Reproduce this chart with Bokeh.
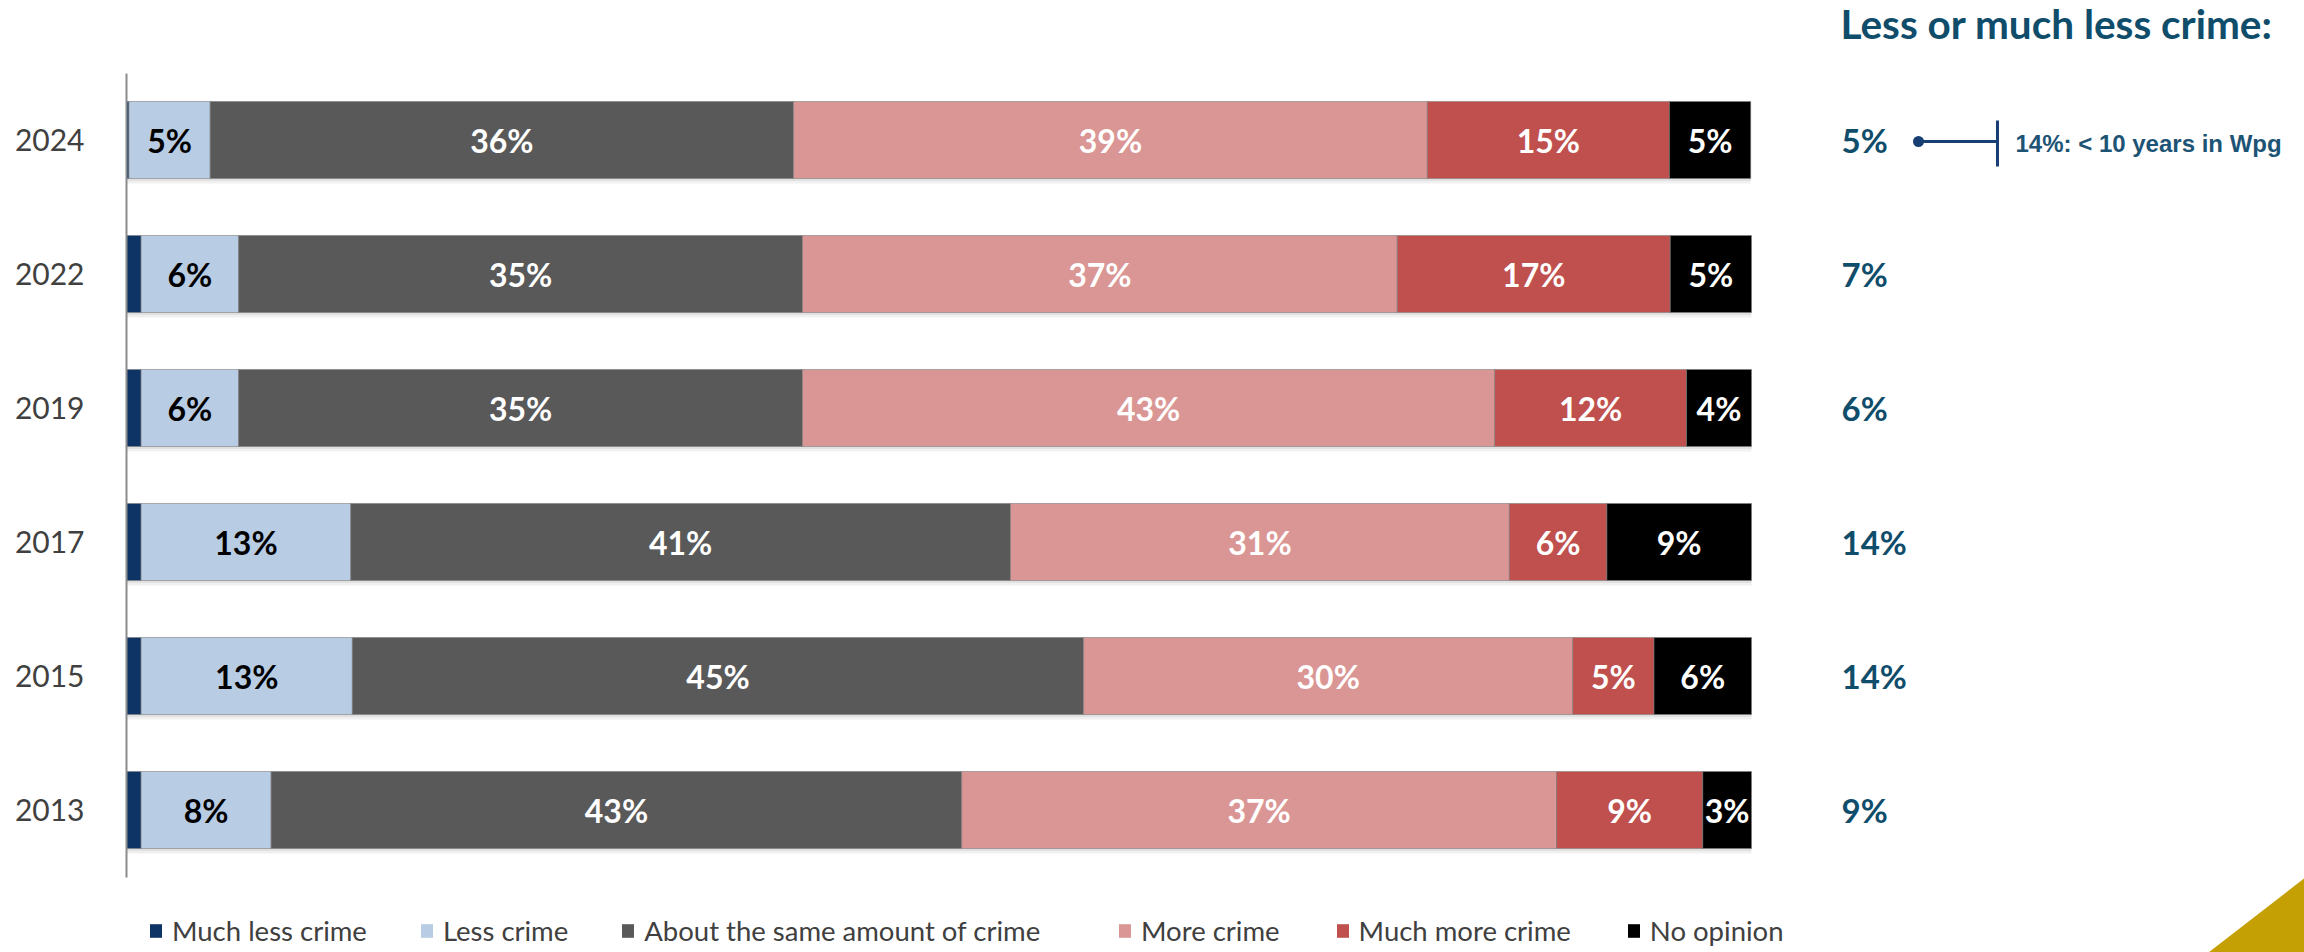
from bokeh.plotting import figure
from bokeh.models import (ColumnDataSource, Range1d, LinearAxis, FixedTicker,
                          Legend, LegendItem)
from bokeh.core.properties import value
from bokeh.embed import file_html
from bokeh.resources import INLINE

# ---------------- data ----------------
years = ["2024", "2022", "2019", "2017", "2015", "2013"]
much_less = [0.15, 0.9, 0.9, 0.9, 0.9, 0.9]
less = [5.0, 6.0, 6.0, 12.9, 13.0, 8.0]
same = [35.9, 34.7, 34.7, 40.6, 45.0, 42.5]
more = [39.0, 36.6, 42.6, 30.7, 30.1, 36.6]
much_more = [14.9, 16.8, 11.8, 6.0, 5.0, 9.0]
no_opinion = [5.0, 5.0, 4.0, 8.9, 6.0, 3.0]
less_or_much_less = [5, 7, 6, 14, 14, 9]

series_names = ["Much less crime", "Less crime", "About the same amount of crime",
                "More crime", "Much more crime", "No opinion"]
series_values = [much_less, less, same, more, much_more, no_opinion]
series_colors = ["#0e3466", "#b8cce4", "#595959", "#da9694", "#c0504d", "#000000"]
label_colors = [None, "#000000", "#ffffff", "#ffffff", "#ffffff", "#ffffff"]

title_text = "Less or much less crime:"
note_text = "14%: < 10 years in Wpg"

# ---------------- layout helpers ----------------
W, H = 2304, 952
LEFT_BORDER = 126
PX_PER_PCT = 16.25          # 100 % = 1625 px
ROW_PX = 134.0              # row spacing in px
FRAME_W = W - LEFT_BORDER
X_MAX = FRAME_W / PX_PER_PCT
n = len(years)
top_row_y = n - 1
Y_MAX = top_row_y + 139.5 / ROW_PX
Y_MIN = top_row_y - (H - 139.5) / ROW_PX


def X(px):   # page-pixel -> data x
    return (px - LEFT_BORDER) / PX_PER_PCT


def Y(px):   # page-pixel -> data y
    return top_row_y - (px - 139.5) / ROW_PX


ypos = [n - 1 - i for i in range(n)]

p = figure(width=W, height=H, output_backend="svg", toolbar_location=None,
           x_range=Range1d(0, X_MAX), y_range=Range1d(Y_MIN, Y_MAX),
           min_border_left=LEFT_BORDER, min_border_right=0,
           min_border_top=0, min_border_bottom=0,
           x_axis_location=None, y_axis_location=None)
p.outline_line_color = None
p.xgrid.visible = False
p.ygrid.visible = False
p.background_fill_color = "white"
p.border_fill_color = "white"

yaxis = LinearAxis(ticker=FixedTicker(ticks=ypos), bounds=(-0.5, n - 0.5))
yaxis.major_label_overrides = {y: yr for y, yr in zip(ypos, years)}
yaxis.axis_line_color = "#8c8c8c"
yaxis.axis_line_width = 2
yaxis.major_tick_line_color = None
yaxis.minor_tick_line_color = None
yaxis.major_label_text_font = "Lato"
yaxis.major_label_text_font_size = "30px"
yaxis.major_label_text_color = "#404040"
yaxis.major_label_standoff = 36
p.add_layout(yaxis, "left")

BAR_H = 0.575

# soft shadow under each full bar
totals = [sum(s[i] for s in series_values) for i in range(n)]
p.hbar(y=[y - 5 / ROW_PX for y in ypos], left=0, right=totals, height=BAR_H,
       fill_color="#000000", fill_alpha=0.06, line_color=None)
p.hbar(y=[y - 2.5 / ROW_PX for y in ypos], left=0, right=totals, height=BAR_H,
       fill_color="#000000", fill_alpha=0.06, line_color=None)

cum = [0.0] * n
legend_items = []
for name, vals, col, lcol in zip(series_names, series_values, series_colors, label_colors):
    left = cum[:]
    right = [a + b for a, b in zip(left, vals)]
    src = ColumnDataSource(dict(y=ypos, left=left, right=right,
                                mid=[(a + b) / 2 for a, b in zip(left, right)],
                                lab=[f"{int(v + 0.5)}%" for v in vals]))
    p.hbar(y="y", left="left", right="right", height=BAR_H, source=src,
           fill_color=col, line_color="#7f7f7f", line_width=1, line_alpha=0.6)
    if lcol is not None:
        p.text(x="mid", y="y", text="lab", source=src, text_align="center",
               text_baseline="middle", text_font=value("Lato"),
               text_font_style="bold", text_font_size="32px", text_color=lcol)
    # zero-width swatch renderer used only for the legend
    swatch = p.hbar(y=[ypos[0]], left=[0], right=[0], height=BAR_H,
                    fill_color=col, line_color=None)
    legend_items.append(LegendItem(label=name, renderers=[swatch]))
    cum = right

# right-hand column
p.text(x=[X(1841)] * n, y=ypos, text=[f"{v}%" for v in less_or_much_less],
       text_align="left", text_baseline="middle", text_font=value("Lato"),
       text_font_style="bold", text_font_size="33px", text_color="#0f4d6b")
p.text(x=[X(1840)], y=[Y(23)], text=[title_text], text_align="left",
       text_baseline="middle", text_font=value("Lato"), text_font_style="bold",
       text_font_size="40.5px", text_color="#0f4d6b")

# annotation for 2024
p.segment(x0=[X(1918)], y0=[Y(141)], x1=[X(1997)], y1=[Y(141)],
          line_color="#173f73", line_width=3)
p.segment(x0=[X(1997)], y0=[Y(120)], x1=[X(1997)], y1=[Y(166)],
          line_color="#173f73", line_width=3)
p.scatter(x=[X(1918)], y=[Y(141)], size=11, marker="circle",
          fill_color="#173f73", line_color=None)
p.text(x=[X(2015)], y=[Y(143)], text=[note_text], text_align="left",
       text_baseline="middle", text_font=value("Liberation Sans"),
       text_font_style="bold", text_font_size="24px", text_color="#1d5475")

# decorative corner triangle
p.patch(x=[X(2208), X(2310), X(2310)], y=[Y(952), Y(873), Y(952)],
        fill_color="#c4a004", line_color=None)

legend_style = dict(orientation="horizontal", padding=0, margin=0,
                    border_line_color=None, background_fill_alpha=0,
                    glyph_width=15, glyph_height=17, label_standoff=9,
                    label_text_font="Lato", label_text_font_size="27.5px",
                    label_text_color="#404040")
legend_a = Legend(items=legend_items[:3], location=(22, 5), spacing=52, **legend_style)
legend_b = Legend(items=legend_items[3:], location=(1117 - LEFT_BORDER, 5), spacing=55,
                  **legend_style)
p.add_layout(legend_a, "center")
p.add_layout(legend_b, "center")

open("out.html", "w").write(file_html(p, INLINE))
